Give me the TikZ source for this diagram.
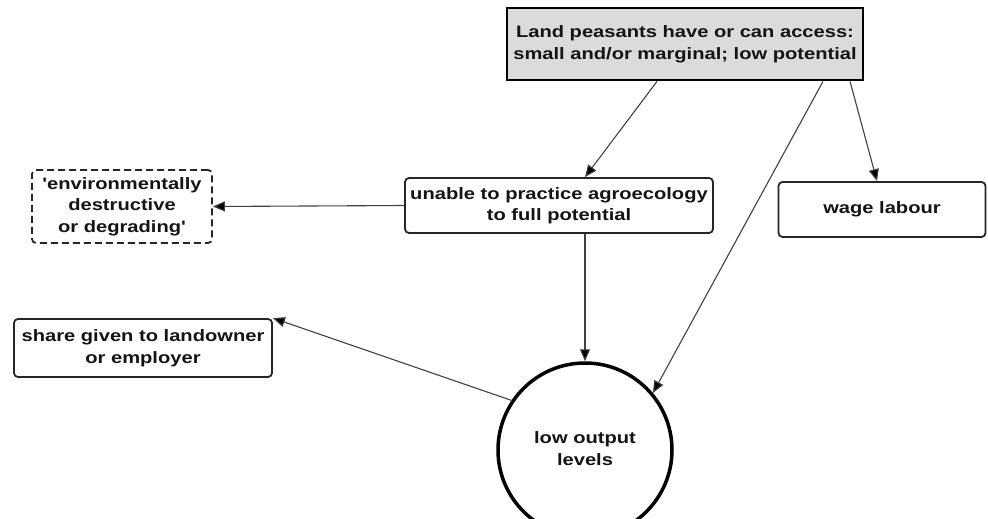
\documentclass[tikz,border=0pt]{standalone}
\usepackage{fontspec}
\usepackage{graphicx}
\setmainfont{Liberation Sans}
\usetikzlibrary{arrows.meta,calc}

% wide bold labels: lines centred, stretched horizontally
\newcommand\widelabel[1]{\scalebox{1.22}[1]{\begin{tabular}{@{}c@{}}#1\end{tabular}}}

\tikzset{
  lbl/.style={font=\fontsize{16.5}{21.5}\selectfont\bfseries, text=black!92, align=center, inner sep=0pt},
  box/.style={lbl, draw=black!85, line width=1.8pt, rounded corners=4pt, fill=white},
  headbox/.style={lbl, draw=black, line width=2.8pt, fill=black!14},
  dashbox/.style={box, dash pattern=on 7pt off 4pt},
  bubble/.style={lbl, circle, draw=black, line width=3.5pt, fill=white},
  link/.style={draw=black!75, line width=1.1pt, -{Triangle[length=12pt,width=10pt,fill=black]}},
}

\begin{document}
\begin{tikzpicture}[x=1pt,y=-1pt]
  \useasboundingbox (0,0) rectangle (988,519);

  % boxes
  \node[headbox, minimum width=356pt, minimum height=72pt] (land) at (685,44)
    {\widelabel{Land peasants have or can access:\\small and/or marginal; low potential}};
  \node[box, minimum width=308pt, minimum height=55pt] (unable) at (559,205.5)
    {\widelabel{unable to practice agroecology\\to full potential}};
  \node[dashbox, minimum width=180pt, minimum height=73pt] (env) at (122,206.5)
    {\widelabel{\textquotesingle environmentally\\destructive\\or degrading\textquotesingle}};
  \node[box, minimum width=207pt, minimum height=55pt] (wage) at (882,209.5)
    {\widelabel{wage labour}};
  \node[box, minimum width=258pt, minimum height=58pt] (share) at (143,348)
    {\widelabel{share given to landowner\\or employer}};
  \node[bubble, minimum size=174pt] (low) at (585,450)
    {\widelabel{low output\\levels}};

  % connectors
  \draw[link] ([xshift=-28pt]land.south) -- ([xshift=26pt]unable.north);
  \draw[link] ([xshift=138pt]land.south) -- (low.40);
  \draw[link] ([xshift=165pt]land.south) -- ([xshift=-5pt]wage.north);
  \draw[link] (unable.west) -- (env.east);
  \draw[link] (low.north |- unable.south) -- (low.north);
  \draw[link] (low.146) -- (share.north east);
\end{tikzpicture}
\end{document}
